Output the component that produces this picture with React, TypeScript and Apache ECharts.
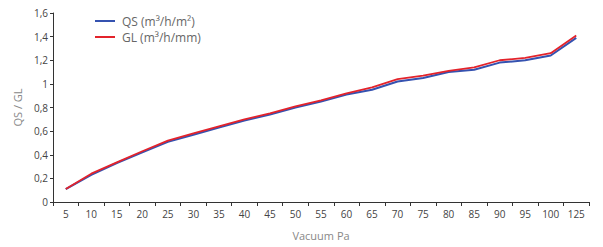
import React, { useEffect, useRef } from "react";
import * as echarts from "echarts";

const categories = ["5","10","15","20","25","30","35","40","45","50","55","60","65","70","75","80","85","90","95","100","125"];
const qsValues = [0.11,0.23,0.33,0.42,0.51,0.57,0.63,0.69,0.74,0.80,0.85,0.91,0.95,1.02,1.05,1.10,1.12,1.18,1.20,1.24,1.39];
const glValues = [0.11,0.24,0.335,0.43,0.52,0.58,0.64,0.70,0.75,0.81,0.86,0.92,0.97,1.04,1.07,1.11,1.14,1.20,1.22,1.26,1.41];
const seriesNames = ["QS (m³/h/m²)", "GL (m³/h/mm)"];

export default function App() {
  const ref = useRef<HTMLDivElement>(null);
  useEffect(() => {
    if (!ref.current) return;
    const chart = echarts.init(ref.current, undefined, { renderer: "svg" });
    const font = "'Open Sans', 'Noto Sans', sans-serif";
    chart.setOption({
      animation: false,
      textStyle: { fontFamily: font },
      legend: {
        left: 90,
        top: 10,
        orient: "vertical",
        itemWidth: 20,
        itemHeight: 8,
        itemGap: 4,
        icon: "path://M0,4 L20,4 L20,6 L0,6 Z",
        textStyle: { fontFamily: font, fontSize: 12, color: "#666", padding: [0, 0, 0, 2] },
        data: seriesNames,
      },
      grid: { left: 53, right: 14, top: 13, bottom: 45, containLabel: false },
      xAxis: {
        type: "category",
        data: categories,
        boundaryGap: true,
        name: "Vacuum Pa",
        nameLocation: "middle",
        nameGap: 28,
        nameTextStyle: { fontFamily: font, fontSize: 11, color: "#888" },
        axisLine: { lineStyle: { color: "#333", width: 1 } },
        axisTick: { show: true, length: 4, alignWithLabel: false, lineStyle: { color: "#333" } },
        axisLabel: { fontFamily: font, fontSize: 10, color: "#444", margin: 7, interval: 0 },
        splitLine: { show: false },
      },
      yAxis: {
        type: "value",
        min: 0,
        max: 1.6,
        interval: 0.2,
        name: "QS / GL",
        nameLocation: "middle",
        nameGap: 29,
        nameTextStyle: { fontFamily: font, fontSize: 11, color: "#888" },
        axisLine: { show: true, lineStyle: { color: "#333", width: 1 } },
        axisTick: { show: true, length: 3, lineStyle: { color: "#333" } },
        axisLabel: {
          fontFamily: font,
          fontSize: 10,
          color: "#444",
          margin: 5,
          formatter: (v: number) => String(Math.round(v * 10) / 10).replace(".", ","),
        },
        splitLine: { show: false },
      },
      series: [
        {
          name: seriesNames[0],
          type: "line",
          data: qsValues,
          symbol: "none",
          lineStyle: { color: "#3552b0", width: 2 },
          itemStyle: { color: "#3552b0" },
          z: 2,
        },
        {
          name: seriesNames[1],
          type: "line",
          data: glValues,
          symbol: "none",
          lineStyle: { color: "#e3232b", width: 1.8 },
          itemStyle: { color: "#e3232b" },
          z: 3,
        },
      ],
    });
    return () => chart.dispose();
  }, []);
  return <div ref={ref} style={{ width: 603, height: 247, position: "absolute", left: 0, top: 0 }} />;
}
